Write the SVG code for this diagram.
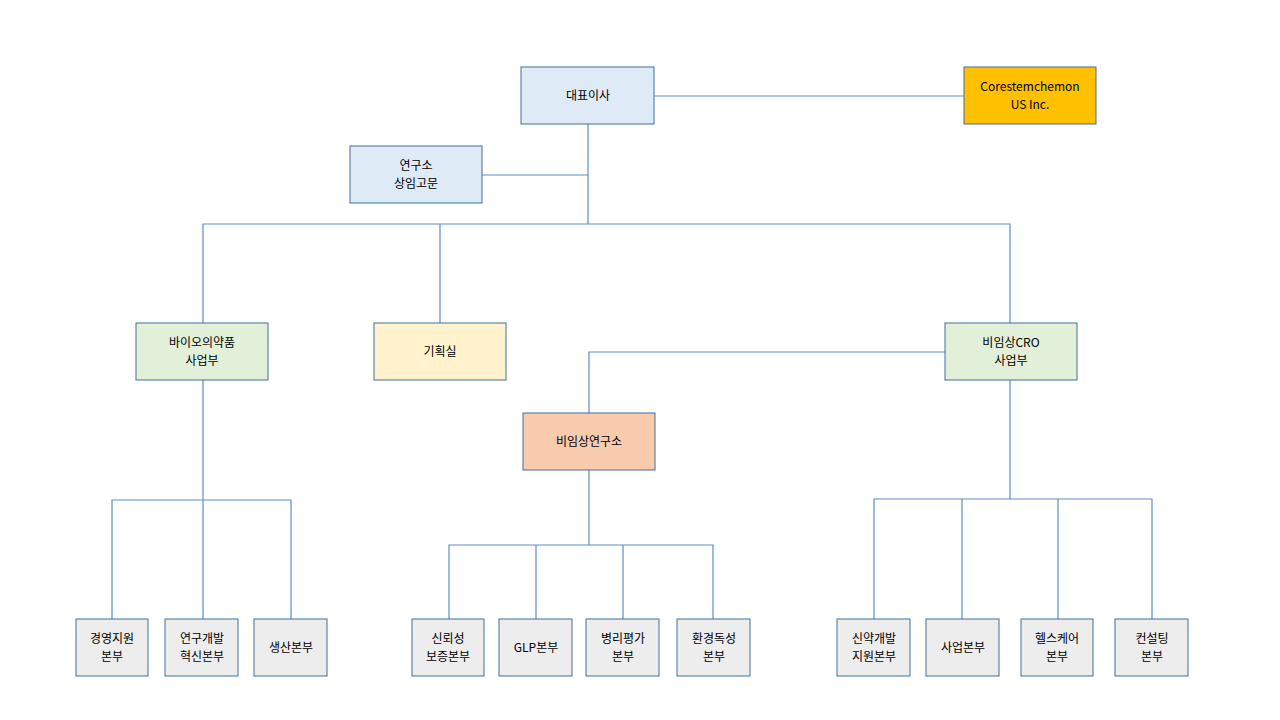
<svg xmlns="http://www.w3.org/2000/svg" width="1280" height="720" viewBox="0 0 1280 720">
<style>
.n{stroke:#41719C;stroke-width:1}
.b{fill:#DEEBF7}.g{fill:#E2F0D9}.y{fill:#FFF2CC}.o{fill:#F8CBAD}.gr{fill:#EDEDED}.gold{fill:#FFC000}
text{font-family:"Noto Sans CJK KR","Liberation Sans",sans-serif;font-size:12px;fill:#000;text-anchor:middle}
.c{stroke:#5B8FC7;stroke-width:1.2;fill:none}
</style>
<rect width="1280" height="720" fill="#fff"/>
<g id="connectors">
<path class="c" d="M654,96H964M588,124V224M482,175H588M203,323V224H1010V323M440,224V323M945,352H589V413M203,380V500M112,619V500H291V619M203,500V619M589,470V545M449,619V545H713V619M536,545V619M623,545V619M1010,380V499M874,619V499H1152V619M962,499V619M1058,499V619"/>
</g>
<g id="ceo"><rect class="n b" x="521" y="67" width="133" height="57"/><text x="588" y="100">대표이사</text></g>
<g id="us"><rect class="n gold" x="964" y="67" width="132" height="57"/><text x="1030" y="91">Corestemchemon</text><text x="1030" y="109">US Inc.</text></g>
<g id="advisor"><rect class="n b" x="350" y="146" width="132" height="57"/><text x="416" y="170">연구소</text><text x="416" y="188">상임고문</text></g>
<g id="bio"><rect class="n g" x="136" y="323" width="132" height="57"/><text x="202" y="347">바이오의약품</text><text x="202" y="365">사업부</text></g>
<g id="plan"><rect class="n y" x="374" y="323" width="132" height="57"/><text x="440" y="356">기획실</text></g>
<g id="cro"><rect class="n g" x="945" y="323" width="132" height="57"/><text x="1011" y="347">비임상CRO</text><text x="1011" y="365">사업부</text></g>
<g id="lab"><rect class="n o" x="523" y="413" width="132" height="57"/><text x="589" y="446">비임상연구소</text></g>
<g id="b1"><rect class="n gr" x="76" y="619" width="72" height="57"/><text x="112" y="643">경영지원</text><text x="112" y="661">본부</text></g>
<g id="b2"><rect class="n gr" x="165" y="619" width="73" height="57"/><text x="202" y="643">연구개발</text><text x="202" y="661">혁신본부</text></g>
<g id="b3"><rect class="n gr" x="254" y="619" width="73" height="57"/><text x="291" y="652">생산본부</text></g>
<g id="l1"><rect class="n gr" x="412" y="619" width="72" height="57"/><text x="448" y="643">신뢰성</text><text x="448" y="661">보증본부</text></g>
<g id="l2"><rect class="n gr" x="499" y="619" width="73" height="57"/><text x="536" y="652">GLP본부</text></g>
<g id="l3"><rect class="n gr" x="586" y="619" width="73" height="57"/><text x="623" y="643">병리평가</text><text x="623" y="661">본부</text></g>
<g id="l4"><rect class="n gr" x="677" y="619" width="73" height="57"/><text x="714" y="643">환경독성</text><text x="714" y="661">본부</text></g>
<g id="c1"><rect class="n gr" x="837" y="619" width="73" height="57"/><text x="874" y="643">신약개발</text><text x="874" y="661">지원본부</text></g>
<g id="c2"><rect class="n gr" x="926" y="619" width="73" height="57"/><text x="963" y="652">사업본부</text></g>
<g id="c3"><rect class="n gr" x="1021" y="619" width="72" height="57"/><text x="1057" y="643">헬스케어</text><text x="1057" y="661">본부</text></g>
<g id="c4"><rect class="n gr" x="1115" y="619" width="73" height="57"/><text x="1152" y="643">컨설팅</text><text x="1152" y="661">본부</text></g>
</svg>
